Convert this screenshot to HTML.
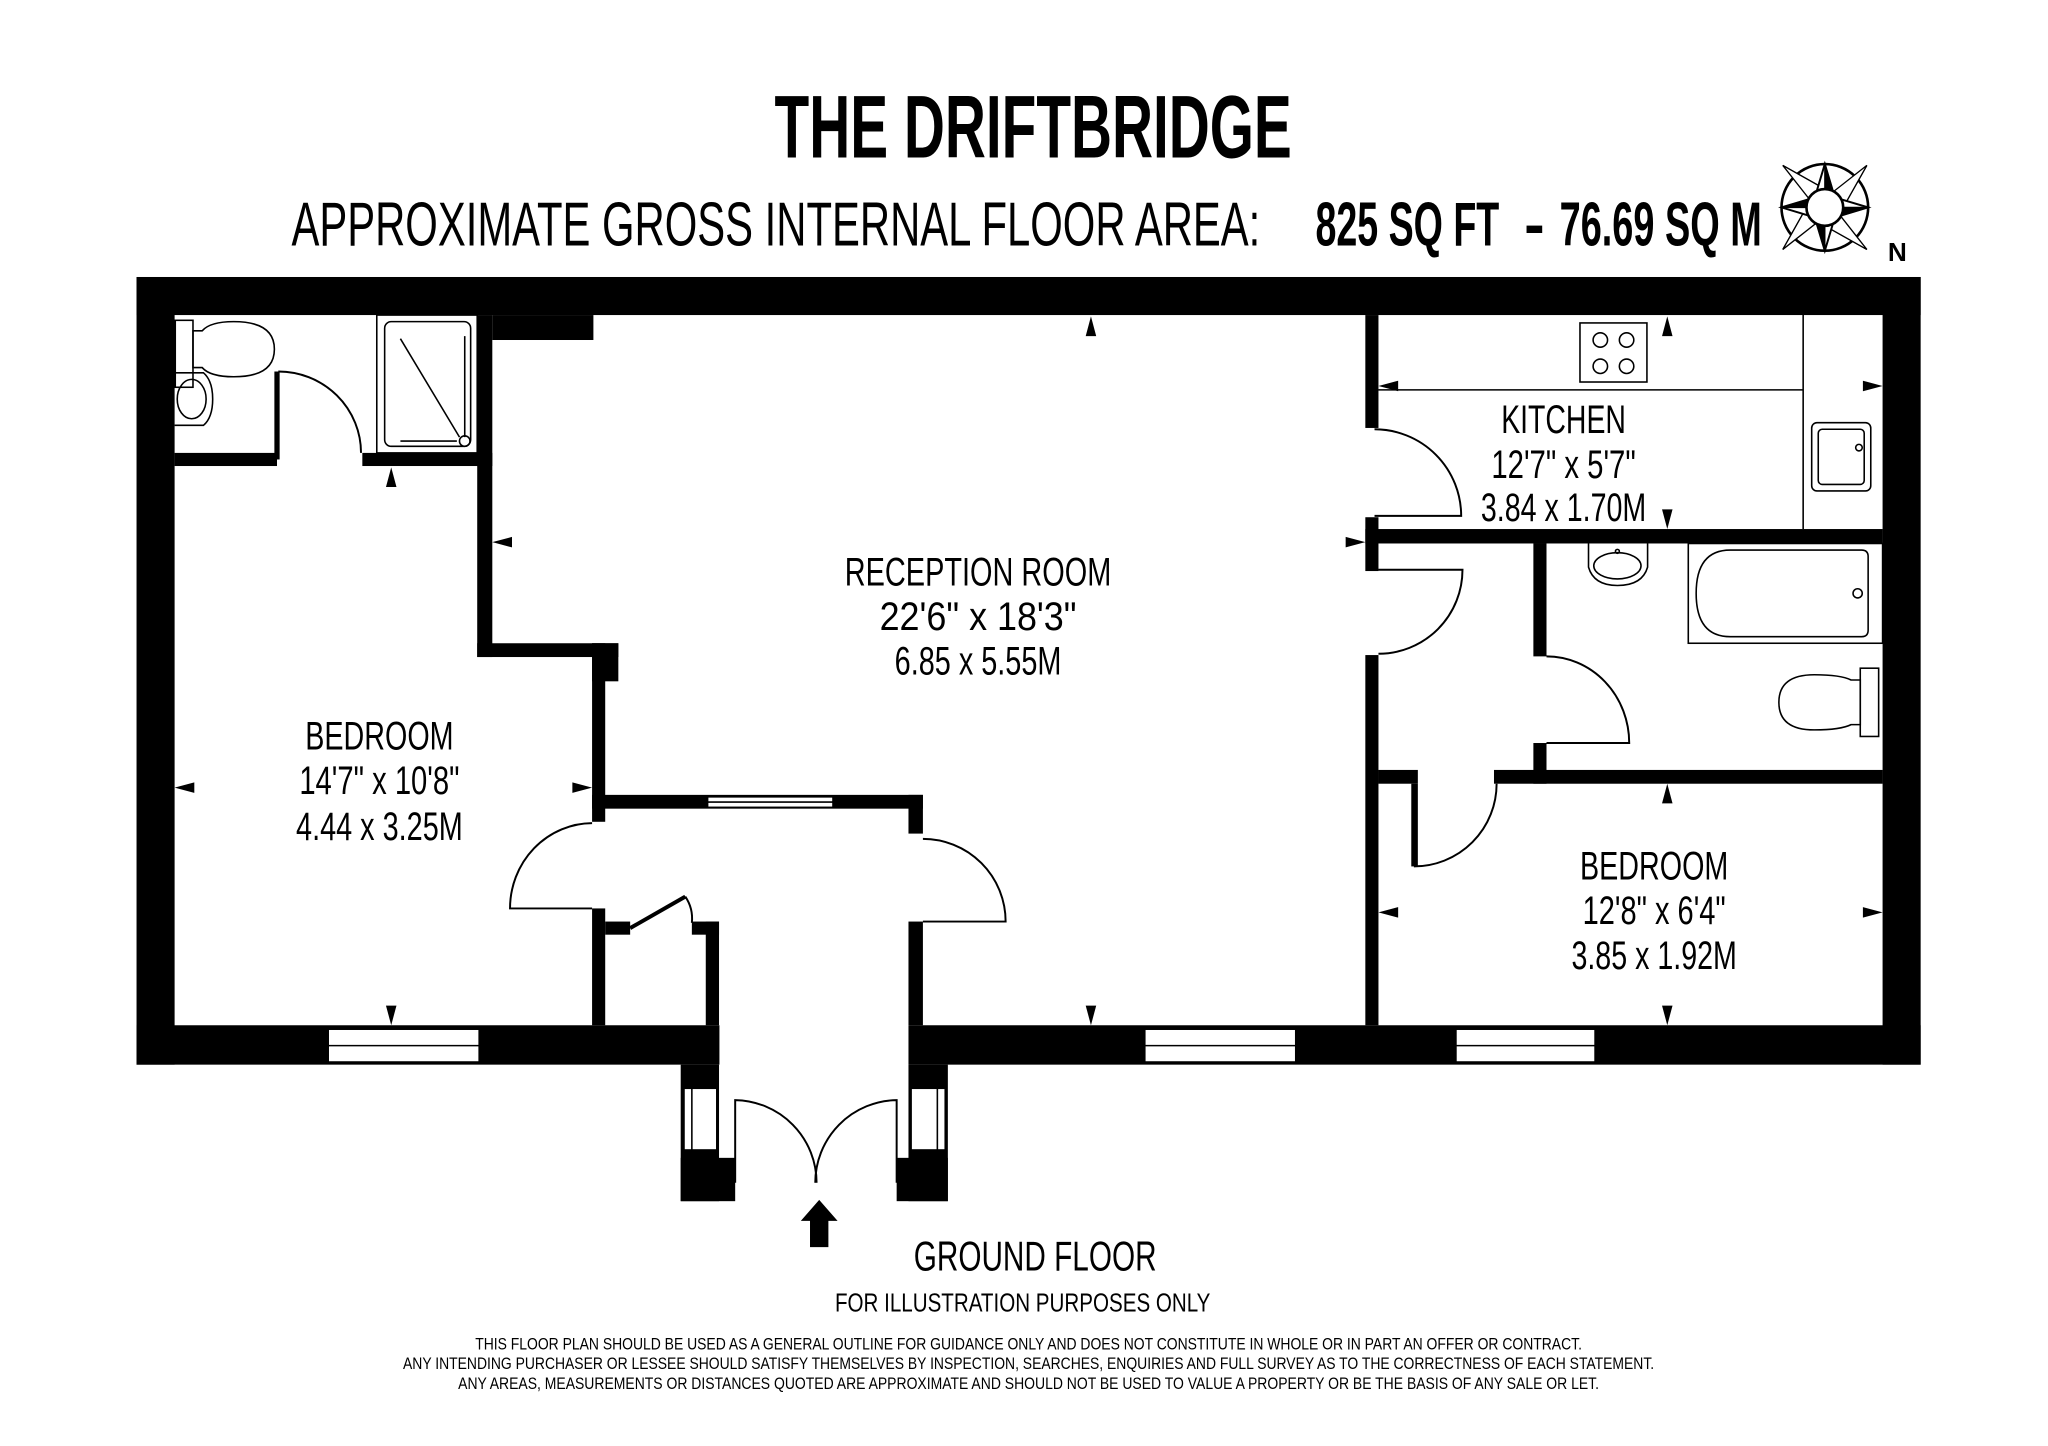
<!DOCTYPE html>
<html><head><meta charset="utf-8"><style>
html,body{margin:0;padding:0;background:#fff;}
svg{display:block;}
text{font-family:"Liberation Sans Narrow","Liberation Sans",sans-serif;fill:#000;}
</style></head><body>
<svg width="2048" height="1446" viewBox="0 0 1560 1101.5" preserveAspectRatio="none" xmlns="http://www.w3.org/2000/svg">
<rect width="1560" height="1101.5" fill="#fff"/>
<!-- headings -->
<text x="590" y="120" font-size="68" font-weight="bold" textLength="394" lengthAdjust="spacingAndGlyphs">THE DRIFTBRIDGE</text>
<text x="222" y="187" font-size="47" textLength="738" lengthAdjust="spacingAndGlyphs">APPROXIMATE GROSS INTERNAL FLOOR AREA:</text>
<text x="1002" y="187" font-size="47" font-weight="bold" textLength="140" lengthAdjust="spacingAndGlyphs">825 SQ FT</text>
<text x="1161" y="187" font-size="47" font-weight="bold">-</text>
<text x="1188" y="187" font-size="47" font-weight="bold" textLength="154" lengthAdjust="spacingAndGlyphs">76.69 SQ M</text>
<!-- compass -->
<g transform="translate(1390,158)" stroke="#000" stroke-width="2" fill="#fff">
<circle r="33" fill="none"/>
<g id="pt">
<polygon points="0,-14 -7,-8 -32,-32 " fill="#000" stroke-width="1"/>
<polygon points="0,-14 -10,-4 -32,-32" fill="#fff" stroke-width="1"/>
</g>
<use href="#pt" transform="rotate(90)"/><use href="#pt" transform="rotate(180)"/><use href="#pt" transform="rotate(270)"/>
<g id="sp"><polygon points="-6,-13 0,-33 6,-13" fill="#fff" stroke-width="1.5"/><polygon points="0,-13 0,-33 6,-13" fill="#000" stroke-width="1"/></g>
<use href="#sp" transform="rotate(90)"/><use href="#sp" transform="rotate(180)"/><use href="#sp" transform="rotate(270)"/>
<circle r="14" fill="#fff" stroke-width="2"/>
</g>
<text x="1438" y="199" font-size="20" font-weight="bold">N</text>

<!-- outer walls -->
<g fill="#000">
<rect x="104" y="211" width="1359" height="29"/>
<rect x="104" y="211" width="29" height="600"/>
<rect x="1434" y="211" width="29" height="600"/>
<rect x="104" y="781" width="444" height="30"/>
<rect x="692" y="781" width="771" height="30"/>
<!-- left interior -->
<rect x="375" y="240" width="77" height="19"/>
<rect x="133" y="345" width="78" height="10"/>
<rect x="276" y="345" width="99" height="10"/>
<rect x="209" y="283" width="4" height="67"/>
<rect x="363.5" y="240" width="11.5" height="260.5"/>
<rect x="363.5" y="490" width="107.5" height="10.5"/>
<rect x="451" y="490" width="20" height="29"/>
<rect x="451" y="490" width="10" height="136"/>
<!-- lobby -->
<rect x="451" y="605.5" width="252" height="10.5"/>
<rect x="692" y="605.5" width="11" height="29.5"/>
<rect x="451" y="692" width="10" height="89"/>
<rect x="461" y="702" width="19" height="10"/>
<rect x="527" y="702" width="20.7" height="10"/>
<rect x="537.6" y="702" width="10.1" height="79"/>
<rect x="692" y="702" width="11" height="79"/>
<!-- porch -->
<rect x="518.5" y="811" width="29.2" height="104"/>
<rect x="518.5" y="882" width="41.5" height="33"/>
<rect x="692" y="811" width="30" height="104"/>
<rect x="683" y="882" width="39" height="33"/>
<!-- right interior -->
<rect x="1040" y="240" width="10" height="86"/>
<rect x="1040" y="394" width="10" height="41"/>
<rect x="1040" y="403" width="394" height="11"/>
<rect x="1040" y="499" width="10" height="282"/>
<rect x="1168" y="414" width="10" height="86"/>
<rect x="1168" y="566" width="10" height="31"/>
<rect x="1138" y="586.5" width="296" height="10.5"/>
<rect x="1050" y="586.5" width="30" height="10.5"/>
<rect x="1075" y="597" width="5" height="63"/>
</g>
<!-- windows -->
<g fill="#fff" stroke="#000" stroke-width="1.2">
<rect x="250" y="784" width="115" height="25"/><line x1="250" y1="796.5" x2="365" y2="796.5"/>
<rect x="872" y="784" width="115" height="25"/><line x1="872" y1="796.5" x2="987" y2="796.5"/>
<rect x="1109" y="784" width="106" height="25"/><line x1="1109" y1="796.5" x2="1215" y2="796.5"/>
<rect x="539" y="607" width="95.5" height="8"/><line x1="539" y1="611" x2="634.5" y2="611"/>
<rect x="521" y="829" width="25" height="47"/><line x1="527" y1="829" x2="527" y2="876"/>
<rect x="694" y="829" width="26" height="47"/><line x1="714" y1="829" x2="714" y2="876"/>
</g>
<!-- doors -->
<g fill="none" stroke="#000" stroke-width="1.5">
<path d="M212,283 A63,62 0 0 1 275,345"/>
<path d="M451,627 A63,65 0 0 0 388.5,692 L451,692"/>
<path d="M703,639 A63,63 0 0 1 766,702 L703,702"/>
<path d="M560,901 L560,838 A63,63 0 0 1 622,901"/>
<path d="M683,901 L683,838 A63,63 0 0 0 621,901"/>
<path d="M1047,327 A66,66 0 0 1 1113,393 L1047,393"/>
<path d="M1050,434 L1114,434 A64,64 0 0 1 1050,498"/>
<path d="M1178,500 A63,66 0 0 1 1241,566 L1178,566"/>
<path d="M1140,597 A63,63 0 0 1 1077,660"/>
<path d="M522,683 A30,30 0 0 1 527,703"/>
<line x1="480" y1="707" x2="522" y2="683" stroke-width="3"/>
</g>
<!-- fixtures -->
<g fill="none" stroke="#000" stroke-width="1.2">
<rect x="133.5" y="244" width="13.5" height="51"/>
<path d="M147,252 L154,252 Q160,245 178,245 Q209,245 209,266 Q209,287 178,287 Q160,287 154,280 L147,280 Z"/>
<path d="M133,284 L155,284 Q162,290 162,304 Q162,318 155,324 L133,324"/>
<ellipse cx="146" cy="304" rx="11" ry="15"/>
<rect x="287" y="240" width="76.5" height="105"/>
<rect x="293" y="245" width="65.5" height="95" rx="5"/>
<line x1="305" y1="258" x2="350" y2="333"/>
<line x1="354" y1="256" x2="354" y2="333"/>
<line x1="305" y1="336" x2="348" y2="336"/>
<circle cx="354" cy="336" r="4"/>
<line x1="1050" y1="297" x2="1373.5" y2="297"/>
<line x1="1373.5" y1="240" x2="1373.5" y2="403"/>
<rect x="1203.5" y="246" width="51" height="45"/>
<circle cx="1219" cy="259" r="5.5"/><circle cx="1239" cy="259" r="5.5"/>
<circle cx="1219" cy="279" r="5.5"/><circle cx="1239" cy="279" r="5.5"/>
<rect x="1380" y="322" width="45" height="52" rx="4"/>
<rect x="1385" y="327" width="35" height="42" rx="3"/>
<circle cx="1416" cy="341" r="2.5"/>
<path d="M1210,414 L1210,432 Q1214,446 1232,446 Q1251,446 1255,432 L1255,414"/>
<ellipse cx="1232" cy="431" rx="18" ry="10"/>
<circle cx="1232" cy="420" r="1.5"/>
<rect x="1286" y="414" width="148" height="76"/>
<path d="M1318,419 L1418,419 Q1423,419 1423,424 L1423,480 Q1423,485 1418,485 L1318,485 Q1292,485 1292,452 Q1292,419 1318,419 Z"/>
<circle cx="1415" cy="452" r="3.5"/>
<rect x="1417" y="509" width="14" height="52"/>
<path d="M1417,518 L1410,518 Q1402,514 1382,514 Q1355,514 1355,535 Q1355,556 1382,556 Q1402,556 1410,552 L1417,552 Z"/>
</g>
<!-- markers -->
<g fill="#000">
<polygon points="831,241 827,256 835,256"/>
<polygon points="831,781 827,766 835,766"/>
<polygon points="375,413 390,409 390,417"/>
<polygon points="1040,413 1025,409 1025,417"/>
<polygon points="298,356 294,371 302,371"/>
<polygon points="298,781 294,766 302,766"/>
<polygon points="133,600 148,596 148,604"/>
<polygon points="451,600 436,596 436,604"/>
<polygon points="1270,241 1266,256 1274,256"/>
<polygon points="1270,403 1266,388 1274,388"/>
<polygon points="1050,294 1065,290 1065,298"/>
<polygon points="1434,294 1419,290 1419,298"/>
<polygon points="1270,597 1266,612 1274,612"/>
<polygon points="1270,781 1266,766 1274,766"/>
<polygon points="1050,695 1065,691 1065,699"/>
<polygon points="1434,695 1419,691 1419,699"/>
<!-- entrance arrow -->
<polygon points="624,914 610,930 617,930 617,950 631,950 631,930 638,930"/>
</g>
<!-- room labels -->
<g font-size="30" text-anchor="middle">
<text x="745" y="446" textLength="203" lengthAdjust="spacingAndGlyphs">RECEPTION ROOM</text>
<text x="745" y="480" textLength="150" lengthAdjust="spacingAndGlyphs">22'6" x 18'3"</text>
<text x="745" y="514" textLength="127" lengthAdjust="spacingAndGlyphs">6.85 x 5.55M</text>
<text x="289" y="571" textLength="113" lengthAdjust="spacingAndGlyphs">BEDROOM</text>
<text x="289" y="605" textLength="122" lengthAdjust="spacingAndGlyphs">14'7" x 10'8"</text>
<text x="289" y="640" textLength="127" lengthAdjust="spacingAndGlyphs">4.44 x 3.25M</text>
<text x="1191" y="330" textLength="95" lengthAdjust="spacingAndGlyphs">KITCHEN</text>
<text x="1191" y="364" textLength="110" lengthAdjust="spacingAndGlyphs">12'7" x 5'7"</text>
<text x="1191" y="397" textLength="126" lengthAdjust="spacingAndGlyphs">3.84 x 1.70M</text>
<text x="1260" y="670" textLength="113" lengthAdjust="spacingAndGlyphs">BEDROOM</text>
<text x="1260" y="704" textLength="109" lengthAdjust="spacingAndGlyphs">12'8" x 6'4"</text>
<text x="1260" y="738" textLength="126" lengthAdjust="spacingAndGlyphs">3.85 x 1.92M</text>
</g>
<text x="788.5" y="968" font-size="32" text-anchor="middle" textLength="185" lengthAdjust="spacingAndGlyphs">GROUND FLOOR</text>
<text x="779" y="999" font-size="20" text-anchor="middle" textLength="286" lengthAdjust="spacingAndGlyphs">FOR ILLUSTRATION PURPOSES ONLY</text>
<g font-size="12.5" text-anchor="middle">
<text x="783.5" y="1028" textLength="843" lengthAdjust="spacingAndGlyphs">THIS FLOOR PLAN SHOULD BE USED AS A GENERAL OUTLINE FOR GUIDANCE ONLY AND DOES NOT CONSTITUTE IN WHOLE OR IN PART AN OFFER OR CONTRACT.</text>
<text x="783.5" y="1043" textLength="953" lengthAdjust="spacingAndGlyphs">ANY INTENDING PURCHASER OR LESSEE SHOULD SATISFY THEMSELVES BY INSPECTION, SEARCHES, ENQUIRIES AND FULL SURVEY AS TO THE CORRECTNESS OF EACH STATEMENT.</text>
<text x="783.5" y="1058" textLength="869" lengthAdjust="spacingAndGlyphs">ANY AREAS, MEASUREMENTS OR DISTANCES QUOTED ARE APPROXIMATE AND SHOULD NOT BE USED TO VALUE A PROPERTY OR BE THE BASIS OF ANY SALE OR LET.</text>
</g>
</svg>
</body></html>
